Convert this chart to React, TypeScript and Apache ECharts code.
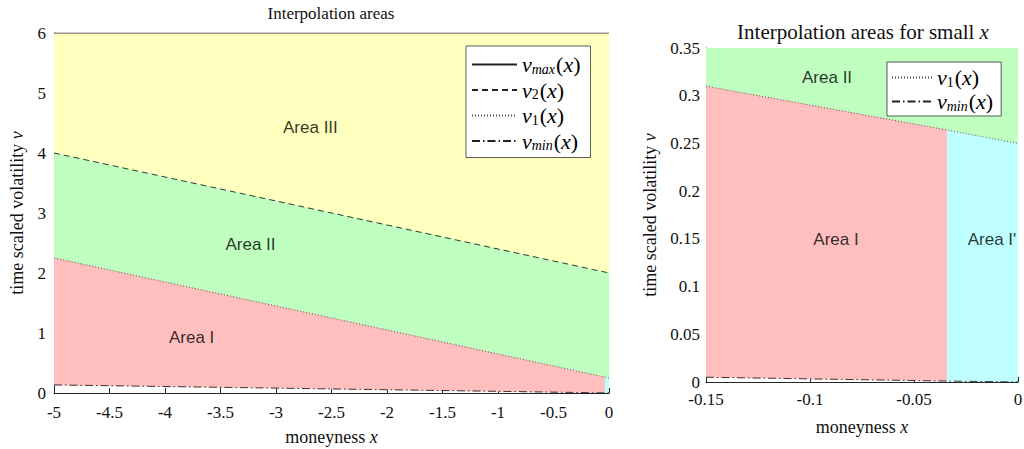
import React, { useEffect, useRef } from 'react';
import * as echarts from 'echarts';

// Boundary curves sampled at the x positions where regions change
const xPts = [-5, -0.15, -0.034, 0];
const vmaxPts = [6, 6, 6, 6];
const v2Pts = [4.0, 2.06, 2.014, 2.0];
const v1Pts = [2.25, 0.31, 0.264, 0.25];
const vminPts = [0.135, 0.005, 0.001, 0.0];
const areaBreakX = -0.034;

// Axis ranges
const leftX = { min: -5, max: 0, interval: 0.5 };
const leftY = { min: 0, max: 6, interval: 1 };
const rightX = { min: -0.15, max: 0, interval: 0.05 };
const rightY = { min: 0, max: 0.35, interval: 0.05 };

// Region labels: [text, x, v]
const leftAreaLabels: [string, number, number][] = [
  ['Area III', -2.69, 4.43],
  ['Area II', -3.23, 2.47],
  ['Area I', -3.76, 0.92],
];
const rightAreaLabels: [string, number, number][] = [
  ['Area II', -0.0918, 0.319],
  ['Area I', -0.0875, 0.149],
  ["Area I'", -0.0125, 0.149],
];

const COLORS = {
  III: '#FFFFBF',
  II: '#BFFFBF',
  I: '#FFBFBF',
  Ip: '#BFFFFF',
};

const SERIF = '"Liberation Serif", "Times New Roman", serif';
const SANS = '"Liberation Sans", Arial, sans-serif';
const INK = '#262626';

type Region = { pts: number[][]; color: string };

function band(lower: number[], upper: number[] | number, x0: number, x1: number, color: string): Region {
  const idx = xPts.map((x, i) => i).filter((i) => xPts[i] >= x0 - 1e-9 && xPts[i] <= x1 + 1e-9);
  const up = idx.map((i) => [xPts[i], typeof upper === 'number' ? upper : upper[i]]);
  const lo = idx.map((i) => [xPts[i], lower[i]]).reverse();
  return { pts: [...up, ...lo], color };
}

function pairs(ys: number[], xMin: number) {
  return xPts.map((x, i) => [x, ys[i]]).filter((p) => p[0] >= xMin - 1e-9);
}

const LF = 22;
const legendRich = {
  i: { fontFamily: SERIF, fontStyle: 'italic', fontSize: LF, lineHeight: 22, color: '#000' },
  n: { fontFamily: SERIF, fontSize: LF, lineHeight: 22, color: '#000' },
  s: { fontFamily: SERIF, fontStyle: 'italic', fontSize: 14, lineHeight: 22, padding: [9, 1, 0, 0], color: '#000' },
  d: { fontFamily: SERIF, fontSize: 14, lineHeight: 22, padding: [9, 1, 0, 0], color: '#000' },
};

const legendText: Record<string, string> = {
  vmax: '{i|v}{s|max}{n|(}{i|x}{n|)}',
  v2: '{i|v}{d|2}{n|(}{i|x}{n|)}',
  v1: '{i|v}{d|1}{n|(}{i|x}{n|)}',
  vmin: '{i|v}{s|min}{n|(}{i|x}{n|)}',
  v1s: '{i|v}{d|1}{n|(}{i|x}{n|)}',
  vmins: '{i|v}{s|min}{n|(}{i|x}{n|)}',
};

export default function App() {
  const ref = useRef<HTMLDivElement>(null);

  useEffect(() => {
    if (!ref.current) return;
    const chart = echarts.init(ref.current, undefined, { renderer: 'svg' });

    const leftRegions: Region[] = [
      band(v2Pts, vmaxPts, leftX.min, leftX.max, COLORS.III),
      band(v1Pts, v2Pts, leftX.min, leftX.max, COLORS.II),
      band(vminPts, v1Pts, leftX.min, areaBreakX, COLORS.I),
      band(vminPts, v1Pts, areaBreakX, leftX.max, COLORS.Ip),
    ];
    const rightRegions: Region[] = [
      band(v1Pts, rightY.max, rightX.min, rightX.max, COLORS.II),
      band(vminPts, v1Pts, rightX.min, areaBreakX, COLORS.I),
      band(vminPts, v1Pts, areaBreakX, rightX.max, COLORS.Ip),
    ];

    const regionSeries = (regions: Region[], gi: number) => ({
      type: 'custom',
      xAxisIndex: gi,
      yAxisIndex: gi,
      silent: true,
      z: 1,
      clip: true,
      encode: { x: 0, y: 1 },
      data: regions.map((r, i) => [r.pts[0][0], r.pts[0][1], i]),
      renderItem: (params: any, api: any) => {
        const r = regions[api.value(2)];
        return {
          type: 'polygon',
          shape: { points: r.pts.map((p) => api.coord(p)) },
          style: { fill: r.color, stroke: r.color, lineWidth: 0.5 },
        };
      },
    });

    const lineSeries = (name: string, ys: number[], gi: number, xMin: number, type: any, color = '#222') => ({
      type: 'line',
      name,
      xAxisIndex: gi,
      yAxisIndex: gi,
      data: pairs(ys, xMin),
      symbol: 'none',
      z: 3,
      silent: true,
      lineStyle: { color, width: 0.9, type },
      itemStyle: { color },
    });

    const labelSeries = (labels: [string, number, number][], gi: number) => ({
      type: 'scatter',
      xAxisIndex: gi,
      yAxisIndex: gi,
      symbolSize: 0,
      silent: true,
      z: 4,
      data: labels.map(([t, x, y]) => ({ name: t, value: [x, y] })),
      label: {
        show: true,
        position: 'inside',
        formatter: '{b}',
        fontFamily: SANS,
        fontSize: 17,
        color: '#000',
      },
    });

    const axisCommon = {
      axisLine: { show: true, onZero: false, lineStyle: { color: INK, width: 1 } },
      axisTick: { show: true, inside: true, length: 5, lineStyle: { color: INK } },
      splitLine: { show: false },
    };

    const nameStyle = {
      fontFamily: SERIF,
      fontSize: 18,
      color: '#111',
      rich: { i: { fontFamily: SERIF, fontStyle: 'italic', fontSize: 18, color: '#111' } },
    };

    const dashDot = [8, 3, 1.5, 3];

    const legendCommon = {
      orient: 'vertical',
      itemHeight: 10,
      itemTextGap: 3,
      backgroundColor: '#fff',
      borderColor: '#333',
      borderWidth: 0.8,
      selectedMode: false,
      itemStyle: { opacity: 0, borderWidth: 0 },
      formatter: (n: string) => legendText[n],
      textStyle: { rich: legendRich, lineHeight: 22 },
    };

    chart.setOption({
      animation: false,
      backgroundColor: '#fff',
      grid: [
        { left: 54, top: 33, width: 555, height: 360, outerBoundsMode: 'none', containLabel: false },
        { left: 706, top: 48, width: 312, height: 334, outerBoundsMode: 'none', containLabel: false },
      ],
      xAxis: [
        {
          type: 'value',
          gridIndex: 0,
          ...leftX,
          ...axisCommon,
          axisLabel: { fontFamily: SERIF, fontSize: 17, color: '#111', margin: 11 },
          name: 'moneyness {i|x}',
          nameLocation: 'middle',
          nameGap: 35,
          nameTextStyle: nameStyle,
        },
        {
          type: 'value',
          gridIndex: 1,
          ...rightX,
          ...axisCommon,
          axisLabel: { fontFamily: SERIF, fontSize: 17, color: '#111', margin: 9 },
          name: 'moneyness {i|x}',
          nameLocation: 'middle',
          nameGap: 36,
          nameTextStyle: nameStyle,
        },
      ],
      yAxis: [
        {
          type: 'value',
          gridIndex: 0,
          ...leftY,
          ...axisCommon,
          axisLabel: { fontFamily: SERIF, fontSize: 17, color: '#111', margin: 8 },
          name: 'time scaled volatility {i|v}',
          nameLocation: 'middle',
          nameGap: 28,
          nameTextStyle: nameStyle,
        },
        {
          type: 'value',
          gridIndex: 1,
          ...rightY,
          ...axisCommon,
          axisLabel: { fontFamily: SERIF, fontSize: 17, color: '#111', margin: 6 },
          name: 'time scaled volatility {i|v}',
          nameLocation: 'middle',
          nameGap: 47,
          nameTextStyle: nameStyle,
        },
      ],
      legend: [
        {
          ...legendCommon,
          data: ['vmax', 'v2', 'v1', 'vmin'],
          left: 466,
          top: 46,
          itemWidth: 45,
          itemGap: 2.5,
          padding: [7, 10, 5, 5],
        },
        {
          ...legendCommon,
          data: ['v1s', 'vmins'],
          left: 887,
          top: 62,
          itemWidth: 40,
          itemGap: 1,
          padding: [4, 8, 3, 4],
        },
      ],
      graphic: [
        {
          type: 'text',
          x: 331,
          y: 13,
          silent: true,
          style: {
            text: 'Interpolation areas',
            align: 'center',
            verticalAlign: 'middle',
            fontFamily: SERIF,
            fontSize: 17,
            fill: '#111',
          },
        },
        {
          type: 'text',
          x: 863,
          y: 32,
          silent: true,
          style: {
            text: 'Interpolation areas for small {i|x}',
            align: 'center',
            verticalAlign: 'middle',
            fontFamily: SERIF,
            fontSize: 21,
            fill: '#111',
            rich: { i: { fontFamily: SERIF, fontStyle: 'italic', fontSize: 21, fill: '#111' } },
          },
        },
      ],
      series: [
        regionSeries(leftRegions, 0),
        regionSeries(rightRegions, 1),
        lineSeries('vmax', vmaxPts, 0, leftX.min, 'solid', '#222'),
        lineSeries('v2', v2Pts, 0, leftX.min, [6, 4], '#222'),
        lineSeries('v1', v1Pts, 0, leftX.min, [1, 2], '#444'),
        lineSeries('vmin', vminPts, 0, leftX.min, dashDot, '#222'),
        lineSeries('v1s', v1Pts, 1, rightX.min, [1, 2], '#444'),
        lineSeries('vmins', vminPts, 1, rightX.min, dashDot, '#222'),
        labelSeries(leftAreaLabels, 0),
        labelSeries(rightAreaLabels, 1),
      ],
    });

    return () => chart.dispose();
  }, []);

  return (
    <div
      ref={ref}
      style={{ position: 'fixed', left: 0, top: 0, width: 1024, height: 449, background: '#fff' }}
    />
  );
}
